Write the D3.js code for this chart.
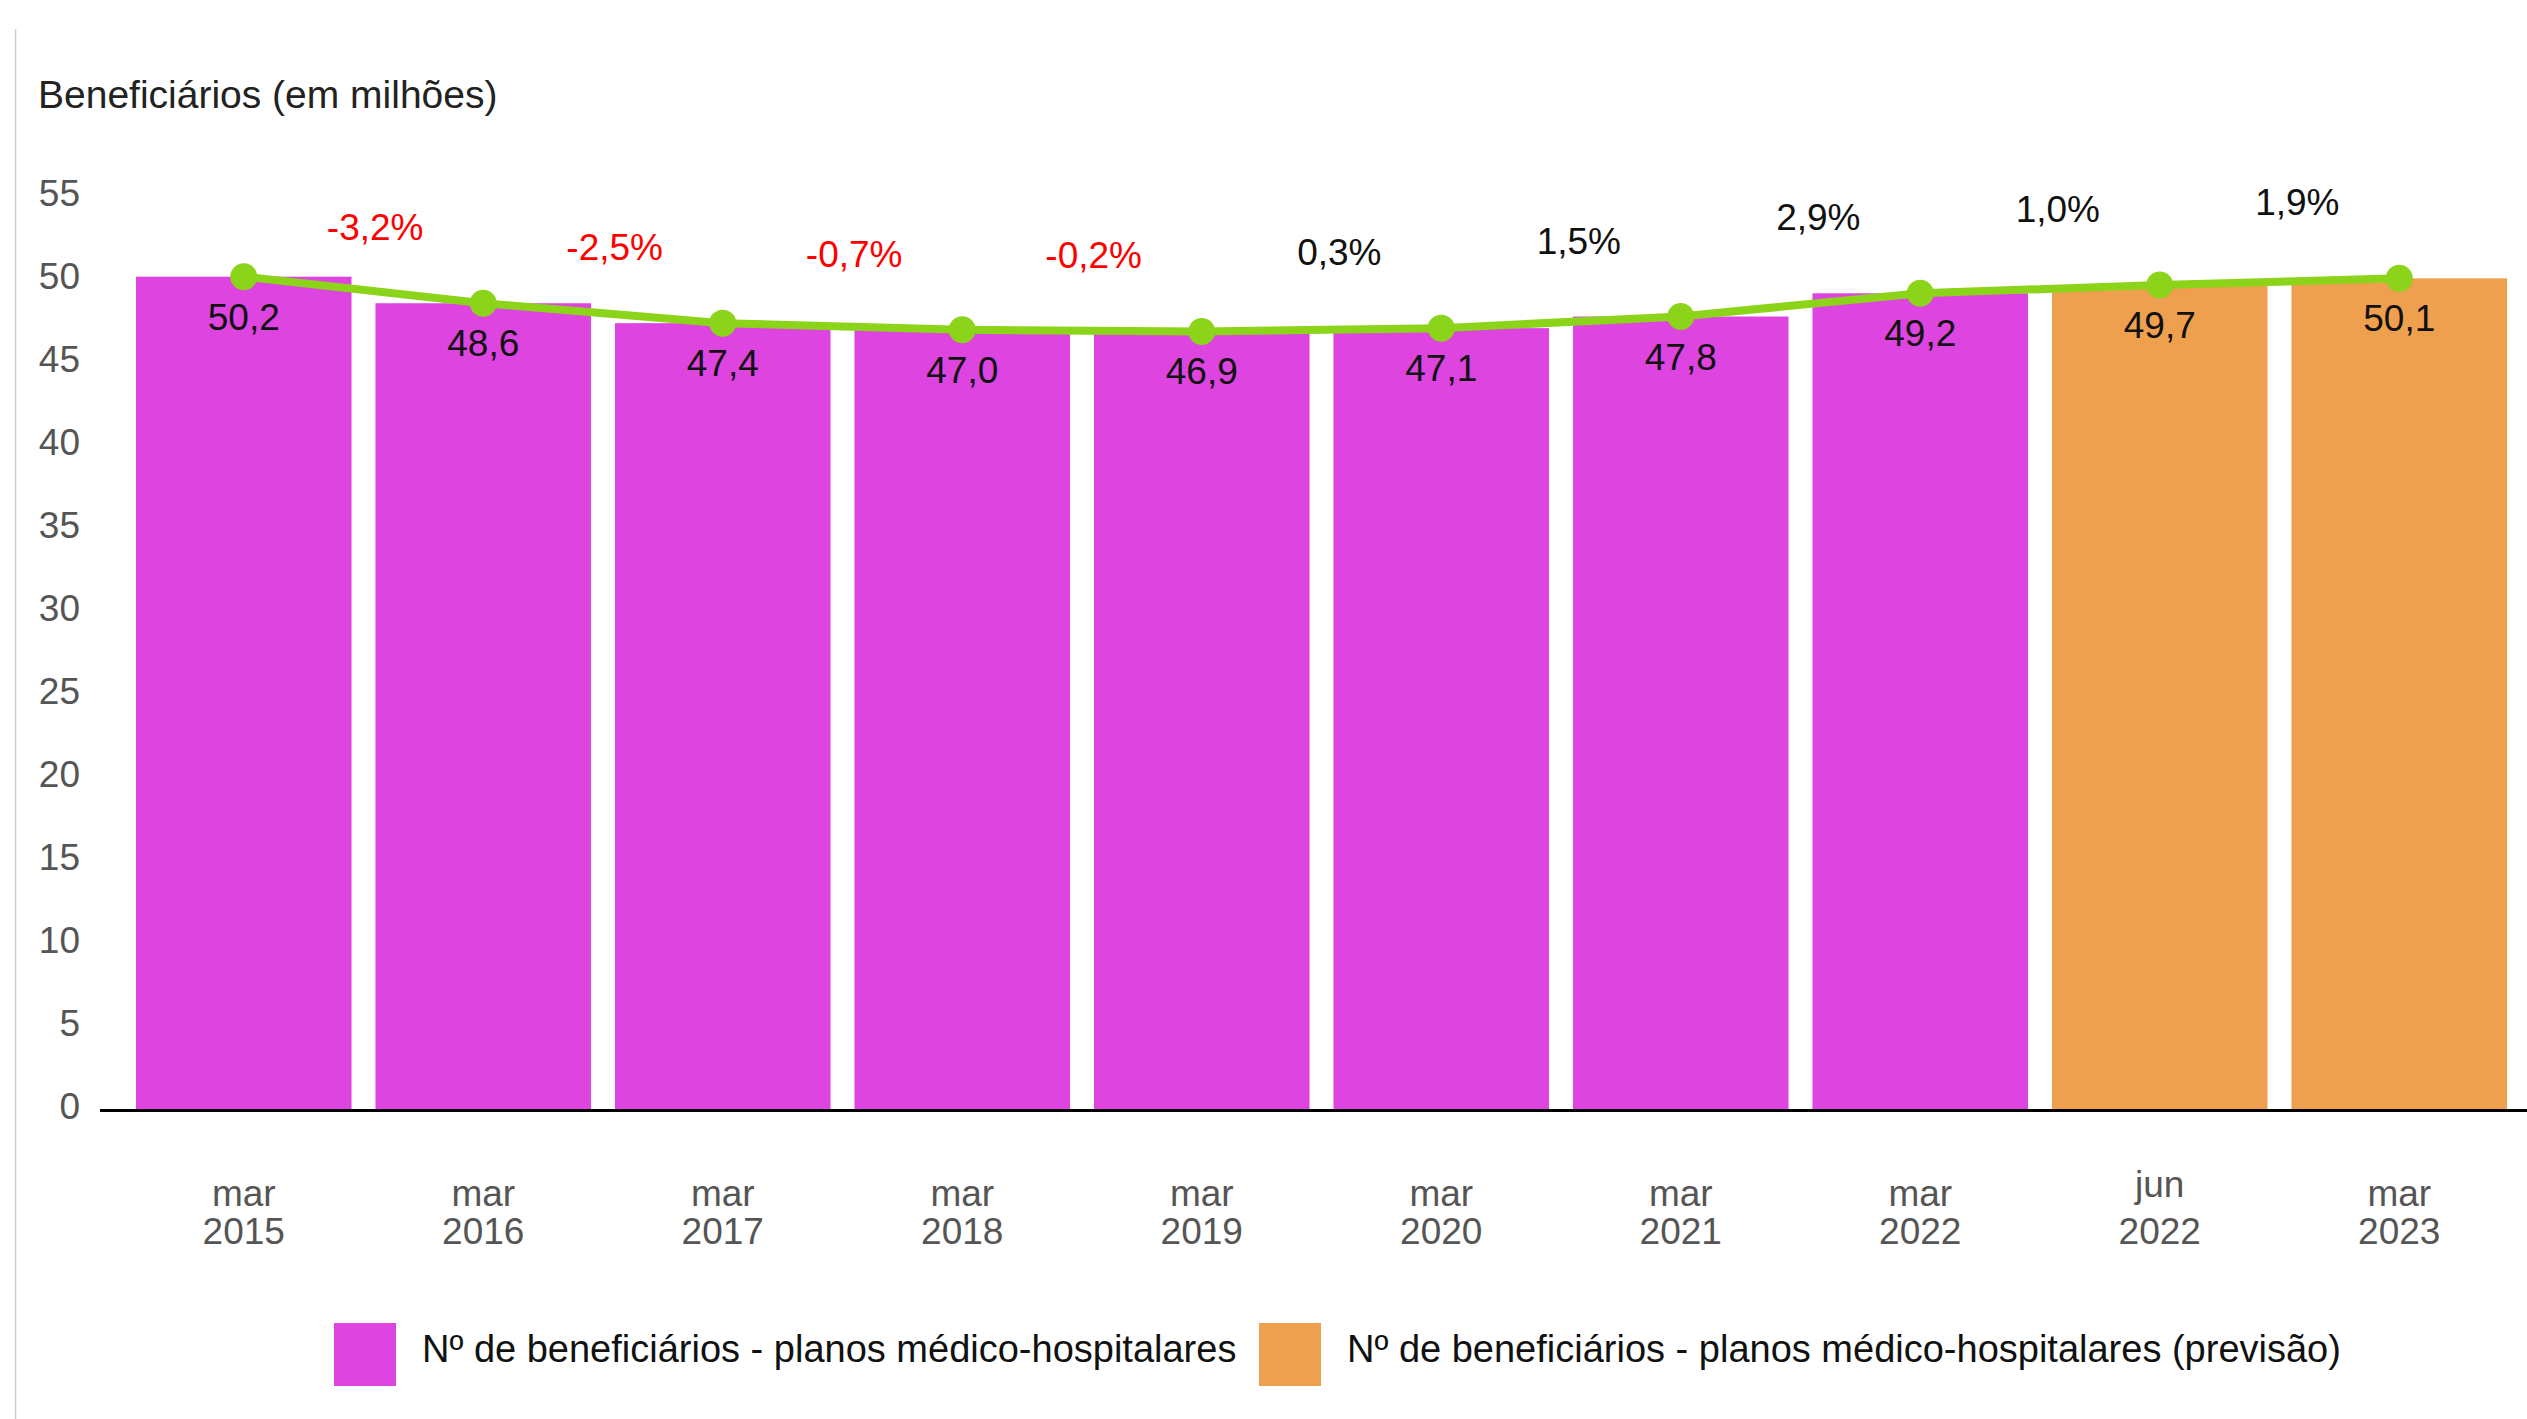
<!DOCTYPE html>
<html>
<head>
<meta charset="utf-8">
<script src="https://cdn.jsdelivr.net/npm/d3@7"></script>
<style>
  html, body { margin: 0; padding: 0; background: #fff; }
  svg { display: block; font-family: "Liberation Sans", Arial, sans-serif; }
</style>
</head>
<body>
<div id="chart"></div>
<script>
// dados
const categorias = ['mar 2015', 'mar 2016', 'mar 2017', 'mar 2018', 'mar 2019',
  'mar 2020', 'mar 2021', 'mar 2022', 'jun 2022', 'mar 2023'];
const beneficiarios = [50.2, 48.6, 47.4, 47.0, 46.9, 47.1, 47.8, 49.2, 49.7, 50.1];
const previsao = [false, false, false, false, false, false, false, false, true, true];
const variacao = [-3.2, -2.5, -0.7, -0.2, 0.3, 1.5, 2.9, 1.0, 1.9];
const yTicks = [0, 5, 10, 15, 20, 25, 30, 35, 40, 45, 50, 55];
const legenda = [
  'Nº de beneficiários - planos médico-hospitalares',
  'Nº de beneficiários - planos médico-hospitalares (previsão)'
];

const W = 2527, H = 1419;
const corReal = '#dd44e0', corPrev = '#efa04e', corLinha = '#8bd41a';
const ptBR = d3.formatLocale({ decimal: ',', thousands: '.', grouping: [3], currency: ['R$', ''], minus: '-' });
const fmt = ptBR.format('.1f');

const svg = d3.select('#chart').append('svg')
  .attr('width', W)
  .attr('height', H);

// borda cinza à esquerda
svg.append('line')
  .attr('x1', 15.5).attr('x2', 15.5)
  .attr('y1', 29).attr('y2', H)
  .attr('stroke', '#cfcfcf')
  .attr('stroke-width', 1.5);

const x = d3.scaleBand()
  .domain(categorias)
  .range([124, 2519])
  .paddingInner(0.1)
  .paddingOuter(0.05);

const y = d3.scaleLinear()
  .domain([0, 55])
  .range([1110, 197]);

// título do eixo
svg.append('text')
  .attr('x', 38)
  .attr('y', 108)
  .attr('font-size', 39)
  .attr('fill', '#222')
  .text('Beneficiários (em milhões)');

// eixo y (só rótulos)
const yAxis = svg.append('g')
  .attr('transform', 'translate(80,-2)')
  .call(d3.axisLeft(y).tickValues(yTicks).tickSize(0).tickPadding(0));
yAxis.select('.domain').remove();
yAxis.selectAll('text')
  .attr('font-size', 37)
  .attr('font-family', '"Liberation Sans", Arial, sans-serif')
  .attr('fill', '#555')
  .attr('dy', '0.28em');

// barras
svg.selectAll('rect.bar')
  .data(beneficiarios)
  .enter()
  .append('rect')
  .attr('class', 'bar')
  .attr('x', (d, i) => x(categorias[i]))
  .attr('y', d => y(d))
  .attr('width', x.bandwidth())
  .attr('height', d => y(0) - y(d))
  .attr('fill', (d, i) => previsao[i] ? corPrev : corReal);

// eixo x
const xAxis = svg.append('g')
  .attr('transform', `translate(0,${y(0)})`)
  .call(d3.axisBottom(x).tickSize(0).tickFormat(''));
xAxis.select('.domain').remove();
svg.append('line')
  .attr('x1', 100).attr('x2', W)
  .attr('y1', y(0) + 0.5).attr('y2', y(0) + 0.5)
  .attr('stroke', '#000')
  .attr('stroke-width', 3);

xAxis.selectAll('.tick').each(function (d) {
  const partes = d.split(' ');
  const t = d3.select(this).append('text')
    .attr('text-anchor', 'middle')
    .attr('font-size', 37)
    .attr('fill', '#555');
  t.append('tspan').attr('x', 0).attr('y', partes[0] === 'jun' ? 87 : 96).text(partes[0]);
  t.append('tspan').attr('x', 0).attr('y', 134).text(partes[1]);
});

// linha
const cx = (d, i) => x(categorias[i]) + x.bandwidth() / 2;
const line = d3.line()
  .x(cx)
  .y(d => y(d));

svg.append('path')
  .datum(beneficiarios)
  .attr('fill', 'none')
  .attr('stroke', corLinha)
  .attr('stroke-width', 8)
  .attr('stroke-linejoin', 'round')
  .attr('d', line);

svg.selectAll('circle.pt')
  .data(beneficiarios)
  .enter()
  .append('circle')
  .attr('class', 'pt')
  .attr('cx', cx)
  .attr('cy', d => y(d))
  .attr('r', 13.5)
  .attr('fill', corLinha);

// rótulos de valor
svg.selectAll('text.val')
  .data(beneficiarios)
  .enter()
  .append('text')
  .attr('class', 'val')
  .attr('x', cx)
  .attr('y', d => y(d) + 53)
  .attr('text-anchor', 'middle')
  .attr('font-size', 37)
  .attr('fill', '#111')
  .text(fmt);

// variação anual
svg.selectAll('text.var')
  .data(variacao)
  .enter()
  .append('text')
  .attr('class', 'var')
  .attr('x', (d, i) => (cx(0, i) + cx(0, i + 1)) / 2 + 60)
  .attr('y', (d, i) => y(beneficiarios[i + 1]) - 63)
  .attr('text-anchor', 'end')
  .attr('font-size', 37)
  .attr('fill', d => d < 0 ? '#ff0000' : '#111')
  .text(d => fmt(d) + '%');

// legenda
const legX = [334, 1259];
const leg = svg.selectAll('g.leg')
  .data(legenda)
  .enter()
  .append('g')
  .attr('class', 'leg')
  .attr('transform', (d, i) => `translate(${legX[i]},1323)`);
leg.append('rect')
  .attr('width', 62)
  .attr('height', 63)
  .attr('fill', (d, i) => i === 0 ? corReal : corPrev);
leg.append('text')
  .attr('x', 88)
  .attr('y', 39)
  .attr('font-size', 38)
  .attr('fill', '#111')
  .text(d => d);
</script>
</body>
</html>
